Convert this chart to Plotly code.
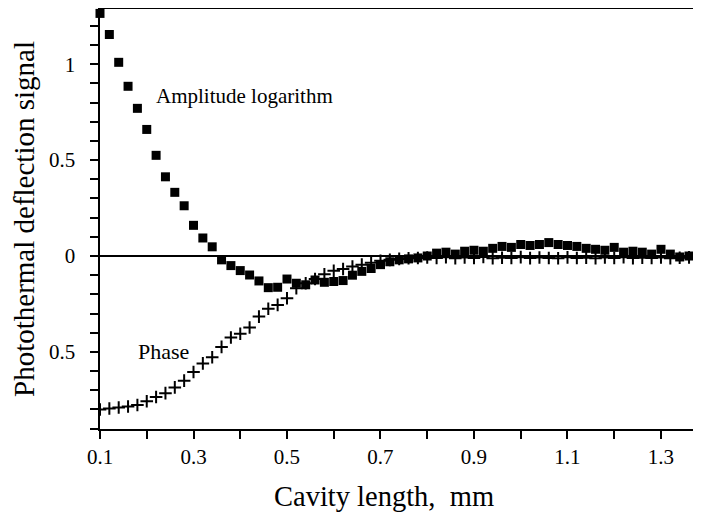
import plotly.graph_objects as go

x_amp = [0.10, 0.12, 0.14, 0.16, 0.18, 0.20, 0.22, 0.24, 0.26, 0.28,
         0.30, 0.32, 0.34, 0.36, 0.38, 0.40, 0.42, 0.44, 0.46, 0.48,
         0.50, 0.52, 0.54, 0.56, 0.58, 0.60, 0.62, 0.64, 0.66, 0.68,
         0.70, 0.72, 0.74, 0.76, 0.78, 0.80, 0.82, 0.84, 0.86, 0.88,
         0.90, 0.92, 0.94, 0.96, 0.98, 1.00, 1.02, 1.04, 1.06, 1.08,
         1.10, 1.12, 1.14, 1.16, 1.18, 1.20, 1.22, 1.24, 1.26, 1.28,
         1.30, 1.32, 1.34, 1.36, 1.38]
amplitude = [1.265, 1.155, 1.01, 0.885, 0.77, 0.66, 0.525, 0.413, 0.332, 0.262,
             0.16, 0.094, 0.048, -0.02, -0.05, -0.076, -0.099, -0.13, -0.165, -0.163,
             -0.12, -0.142, -0.15, -0.125, -0.137, -0.133, -0.128, -0.10, -0.08, -0.065,
             -0.045, -0.03, -0.02, -0.015, -0.01, 0.0, 0.015, 0.02, 0.01, 0.025,
             0.03, 0.025, 0.04, 0.05, 0.045, 0.06, 0.055, 0.06, 0.07, 0.06,
             0.055, 0.05, 0.04, 0.035, 0.03, 0.045, 0.02, 0.025, 0.02, 0.01,
             0.035, 0.01, -0.005, 0.0, -0.005]

x_phase = x_amp
phase = [-0.80, -0.795, -0.79, -0.785, -0.777, -0.757, -0.735, -0.715, -0.685, -0.65,
         -0.605, -0.56, -0.528, -0.474, -0.425, -0.405, -0.373, -0.316, -0.275, -0.255,
         -0.22, -0.168, -0.142, -0.12, -0.095, -0.077, -0.068, -0.055, -0.045, -0.035,
         -0.025, -0.02, -0.015, -0.012, -0.01, -0.008, -0.01, -0.006, -0.012, -0.008,
         -0.01, -0.005, -0.012, -0.009, -0.01, -0.006, -0.011, -0.008, -0.01, -0.012,
         -0.007, -0.01, -0.009, -0.012, -0.008, -0.01, -0.006, -0.011, -0.009, -0.01,
         -0.008, -0.012, -0.009, -0.007, -0.01]

y_tickvals = [-0.9, -0.8, -0.7, -0.6, -0.5, -0.4, -0.3, -0.2, -0.1, 0.0,
              0.1, 0.2, 0.3, 0.4, 0.5, 0.6, 0.7, 0.8, 0.9, 1.0, 1.1, 1.2]
y_ticktext = ["", "", "", "", "0.5", "", "", "", "", "0",
              "", "", "", "", "0.5", "", "", "", "", "1", "", ""]
x_tickvals = [0.1, 0.2, 0.3, 0.4, 0.5, 0.6, 0.7, 0.8, 0.9, 1.0, 1.1, 1.2, 1.3]
x_ticktext = ["0.1", "", "0.3", "", "0.5", "", "0.7", "", "0.9", "", "1.1", "", "1.3"]

FONT = "Liberation Serif, Times New Roman, serif"
PAD = "\u00a0\u00a0"  # keeps the y labels a little further from the axis

fig = go.Figure()
fig.add_trace(go.Scatter(
    x=x_phase, y=phase, mode="markers",
    marker=dict(symbol="cross-thin", size=9, color="black",
                line=dict(width=2, color="black")),
    showlegend=False, cliponaxis=True))
fig.add_trace(go.Scatter(
    x=x_amp, y=amplitude, mode="markers",
    marker=dict(symbol="square", size=9, color="black", line=dict(width=0)),
    showlegend=False, cliponaxis=False))

fig.add_annotation(x=0.216, y=0.834, text="Amplitude logarithm", showarrow=False,
                   xanchor="left", yanchor="middle",
                   font=dict(family=FONT, size=21, color="black"))
fig.add_annotation(x=0.176, y=-0.50, text="Phase", showarrow=False,
                   xanchor="left", yanchor="middle",
                   font=dict(family=FONT, size=22, color="black"))
# x-axis title (placed slightly left of centre, as in the original)
fig.add_annotation(x=0.473, y=-0.161, xref="paper", yref="paper",
                   text="Cavity length,  mm", showarrow=False,
                   xanchor="center", yanchor="middle",
                   font=dict(family=FONT, size=28.5, color="black"))

fig.update_layout(
    width=693, height=504,
    margin=dict(l=92, r=0, t=1, b=83, autoexpand=False),
    paper_bgcolor="white", plot_bgcolor="white",
    font=dict(family=FONT, color="black"),
    xaxis=dict(range=[0.1, 1.3856], tickmode="array", tickvals=x_tickvals,
               ticktext=x_ticktext, ticks="outside", ticklen=8, tickwidth=2,
               tickcolor="black", showline=True, linewidth=2, linecolor="black",
               mirror=True, showgrid=False, zeroline=False, automargin=False,
               tickfont=dict(family=FONT, size=21, color="black")),
    yaxis=dict(range=[-0.902, 1.288], tickmode="array", tickvals=y_tickvals,
               ticktext=[t + PAD if t else t for t in y_ticktext],
               ticks="outside", ticklen=8, tickwidth=2,
               tickcolor="black", showline=True, linewidth=2, linecolor="black",
               showgrid=False, zeroline=True, zerolinecolor="black", zerolinewidth=1.5,
               automargin=False,
               tickfont=dict(family=FONT, size=21, color="black"),
               title=dict(text="Photothermal deflection signal",
                          font=dict(family=FONT, size=29, color="black"))),
)

fig.write_html("out.html")
